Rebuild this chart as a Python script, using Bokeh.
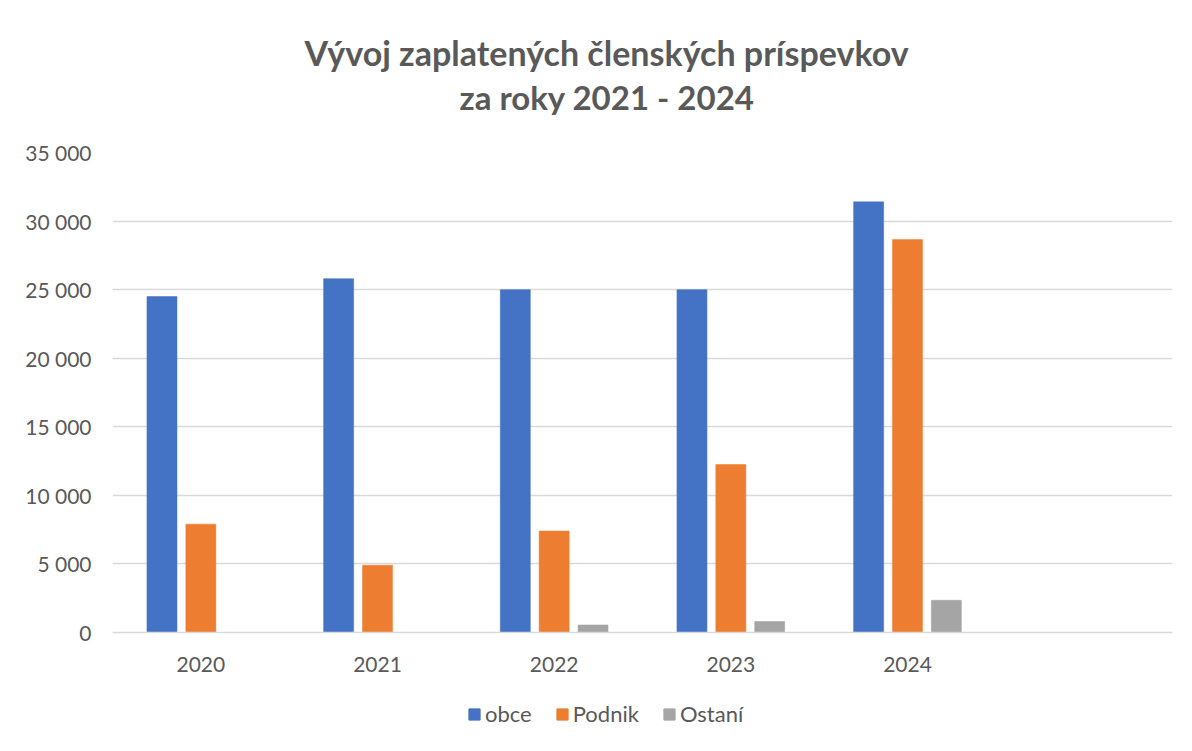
from bokeh.plotting import figure
from bokeh.layouts import column
from bokeh.models import FactorRange, Range1d, Legend, LegendItem, FixedTicker, Title, ColumnDataSource
from bokeh.transform import dodge
from bokeh.embed import file_html
from bokeh.resources import INLINE

# ---- data ----
years = ["2020", "2021", "2022", "2023", "2024"]
obce = [24500, 25800, 25000, 25000, 31400]
podnik = [7900, 4900, 7400, 12250, 28650]
ostani = [0, 0, 550, 800, 2350]
series_names = ["obce", "Podnik", "Ostaní"]
colors = ["#4472C4", "#ED7D31", "#A5A5A5"]
y_ticks = [0, 5000, 10000, 15000, 20000, 25000, 30000, 35000]
y_tick_labels = ["0", "5 000", "10 000", "15 000", "20 000", "25 000", "30 000", "35 000"]
title_lines = ["Vývoj zaplatených členských príspevkov", "za roky 2021 - 2024"]

FONT = "Lato"
TXT = "#595959"

factors = years + [" "]
src = ColumnDataSource(dict(year=years, obce=obce, podnik=podnik, ostani=ostani))

p = figure(width=1176, height=689, x_range=FactorRange(*factors, range_padding=0),
           y_range=Range1d(0, 35000), output_backend="svg", toolbar_location=None,
           title=None,
           min_border_left=112, min_border_right=4, min_border_top=152, min_border_bottom=57)
p.outline_line_color = None
p.background_fill_color = "white"
p.border_fill_color = "white"

for col, off, c in zip(["obce", "podnik", "ostani"], [-0.22, 0.0, 0.22], colors):
    p.vbar(x=dodge("year", off, range=p.x_range), top=col, width=0.17, source=src,
           fill_color=c, line_color=c, line_width=0.5)

# axes
p.yaxis.ticker = FixedTicker(ticks=y_ticks)
p.yaxis.major_label_overrides = {t: l for t, l in zip(y_ticks, y_tick_labels)}
p.yaxis.axis_line_color = None
p.yaxis.major_tick_line_color = None
p.yaxis.minor_tick_line_color = None
p.yaxis.major_tick_out = 0
p.yaxis.major_label_standoff = 21
p.yaxis.major_label_text_font = FONT
p.yaxis.major_label_text_font_size = "21px"
p.yaxis.major_label_text_color = TXT

p.xaxis.axis_line_color = "#d9d9d9"
p.xaxis.axis_line_width = 1.5
p.xaxis.major_tick_line_color = None
p.xaxis.minor_tick_line_color = None
p.xaxis.major_tick_out = 0
p.xaxis.major_label_standoff = 18
p.xaxis.major_label_text_font = FONT
p.xaxis.major_label_text_font_size = "21px"
p.xaxis.major_label_text_color = TXT

p.xgrid.grid_line_color = None
p.ygrid.grid_line_color = "#d9d9d9"
p.ygrid.grid_line_width = 1.5

# title (two centred lines stacked above the frame)
spacer = Title(text=" ", text_font_size="26px", standoff=0)
t2 = Title(text=title_lines[1], align="left", offset=347, vertical_align="top",
           text_font=FONT, text_font_style="bold", text_font_size="33px", text_color=TXT, standoff=4)
t1 = Title(text=title_lines[0], align="left", offset=192, vertical_align="bottom",
           text_font=FONT, text_font_style="bold", text_font_size="34px", text_color=TXT, standoff=4)
p.add_layout(spacer, "above")
p.add_layout(t2, "above")
p.add_layout(t1, "above")

# legend strip below the chart
lg = figure(width=1176, height=60, x_range=Range1d(0, 1), y_range=Range1d(0, 1),
            output_backend="svg", toolbar_location=None, x_axis_type=None, y_axis_type=None,
            min_border_left=0, min_border_right=0, min_border_top=0, min_border_bottom=0)
lg.outline_line_color = None
lg.xgrid.grid_line_color = None
lg.ygrid.grid_line_color = None
lg_src = ColumnDataSource(dict(x=[float("nan")], top=[float("nan")]))
lg_renderers = [lg.vbar(x="x", top="top", width=0.1, source=lg_src, fill_color=c, line_color=c)
                for c in colors]
legend = Legend(items=[LegendItem(label=n, renderers=[r]) for n, r in zip(series_names, lg_renderers)],
                orientation="horizontal", location=(355, 22), border_line_color=None,
                background_fill_alpha=0, label_text_font=FONT, label_text_font_size="22px",
                label_text_color=TXT, glyph_width=14, glyph_height=14, spacing=23,
                label_standoff=4, padding=0, margin=0)
lg.add_layout(legend, "center")

layout = column(p, lg, spacing=0)
open("out.html", "w").write(file_html(layout, INLINE))
